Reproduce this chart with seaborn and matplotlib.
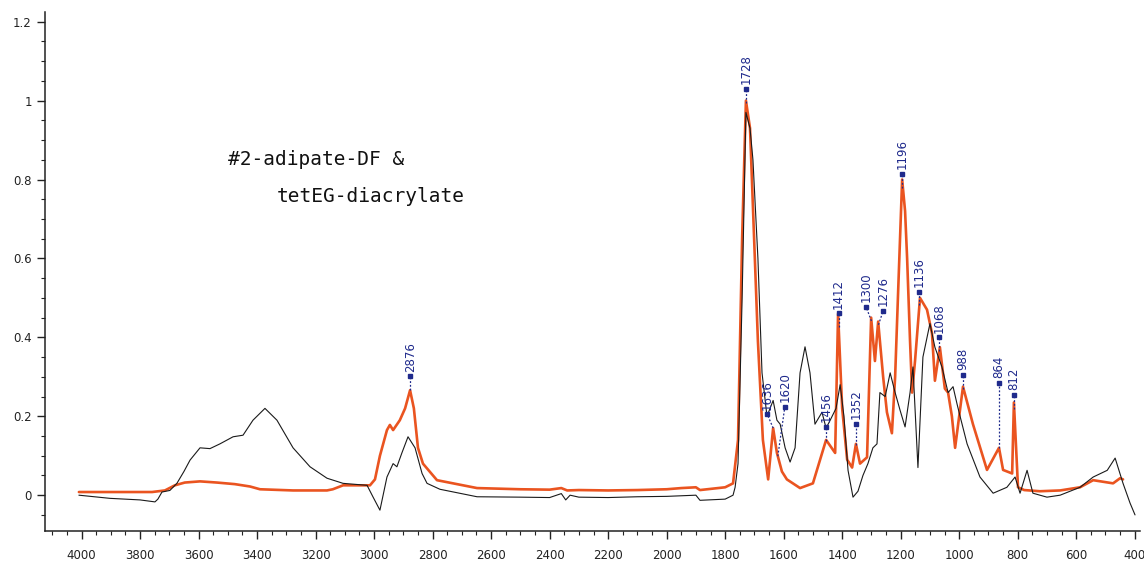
import numpy as np
import pandas as pd
import matplotlib
matplotlib.use("Agg")
import matplotlib.pyplot as plt
from matplotlib.ticker import MultipleLocator, FuncFormatter
import seaborn as sns

# ---------------- data ----------------
red_wn = [4009, 3903, 3759, 3715, 3681, 3647, 3595, 3537, 3476, 3424, 3390, 3277,
          3161, 3141, 3106, 3014, 2997, 2980, 2956, 2946, 2935, 2912, 2894, 2877,
          2864, 2850, 2833, 2785, 2648, 2500, 2400, 2360, 2340, 2300, 2200, 2100,
          2000, 1950, 1900, 1886, 1800, 1773, 1756, 1742, 1729, 1715, 1705, 1688,
          1671, 1653, 1636, 1623, 1606, 1589, 1544, 1500, 1455, 1424, 1414, 1400,
          1383, 1366, 1353, 1339, 1315, 1301, 1288, 1277, 1260, 1247, 1230, 1219,
          1209, 1195, 1185, 1178, 1168, 1161, 1151, 1134, 1110, 1093, 1083, 1066,
          1049, 1038, 1025, 1014, 987, 953, 905, 864, 850, 819, 813, 799, 778, 724,
          655, 587, 542, 474, 450, 440]
red_abs = [0.008, 0.008, 0.008, 0.012, 0.025, 0.032, 0.035, 0.032, 0.028, 0.022, 0.015, 0.012,
           0.012, 0.015, 0.025, 0.025, 0.040, 0.100, 0.165, 0.178, 0.165, 0.190, 0.220, 0.266,
           0.220, 0.120, 0.080, 0.038, 0.018, 0.015, 0.014, 0.018, 0.012, 0.013, 0.012, 0.013,
           0.015, 0.018, 0.020, 0.013, 0.020, 0.030, 0.140, 0.650, 1.000, 0.930, 0.730, 0.390,
           0.140, 0.040, 0.170, 0.107, 0.060, 0.040, 0.018, 0.030, 0.140, 0.107, 0.460, 0.220,
           0.090, 0.070, 0.130, 0.080, 0.096, 0.450, 0.340, 0.440, 0.300, 0.210, 0.157, 0.300,
           0.510, 0.800, 0.720, 0.600, 0.390, 0.260, 0.340, 0.500, 0.470, 0.410, 0.290, 0.375,
           0.270, 0.260, 0.200, 0.120, 0.275, 0.180, 0.064, 0.120, 0.064, 0.055, 0.235, 0.020, 0.013, 0.010,
           0.012, 0.020, 0.038, 0.030, 0.043, 0.040]

black_wn = [4009, 3903, 3800, 3749, 3739, 3725, 3698, 3674, 3650, 3629, 3595, 3561,
            3527, 3482, 3448, 3414, 3373, 3332, 3277, 3219, 3161, 3106, 3024, 3004,
            2980, 2956, 2935, 2922, 2905, 2884, 2860, 2836, 2819, 2775, 2648, 2500,
            2400, 2360, 2345, 2330, 2300, 2200, 2100, 2000, 1900, 1886, 1800, 1773,
            1766, 1756, 1742, 1729, 1715, 1705, 1688, 1674, 1657, 1636, 1623, 1612,
            1595, 1578, 1561, 1544, 1527, 1510, 1493, 1469, 1455, 1441, 1421, 1407,
            1394, 1380, 1363, 1346, 1329, 1312, 1295, 1281, 1271, 1253, 1236, 1219,
            1202, 1185, 1168, 1158, 1141, 1124, 1100, 1083, 1059, 1038, 1021, 1007,
            997, 973, 929, 884, 837, 809, 792, 768, 748, 700, 655, 587, 542, 494,
            467, 440, 416, 399]
black_abs = [0.000, -0.008, -0.012, -0.017, -0.010, 0.008, 0.012, 0.030, 0.060, 0.089, 0.120, 0.118,
             0.130, 0.148, 0.152, 0.190, 0.220, 0.190, 0.120, 0.072, 0.043, 0.030, 0.025, -0.004,
             -0.038, 0.046, 0.080, 0.072, 0.107, 0.148, 0.120, 0.055, 0.030, 0.015, -0.004, -0.005,
             -0.006, 0.004, -0.012, 0.000, -0.005, -0.006, -0.004, -0.003, 0.000, -0.013, -0.010, 0.000,
             0.020, 0.080, 0.500, 0.970, 0.930, 0.850, 0.600, 0.310, 0.200, 0.240, 0.190, 0.180,
             0.120, 0.084, 0.120, 0.310, 0.376, 0.310, 0.180, 0.210, 0.170, 0.190, 0.220, 0.280,
             0.200, 0.063, -0.005, 0.010, 0.050, 0.080, 0.120, 0.130, 0.260, 0.250, 0.310, 0.260,
             0.215, 0.173, 0.260, 0.325, 0.070, 0.350, 0.435, 0.375, 0.325, 0.260, 0.275, 0.230,
             0.200, 0.130, 0.046, 0.005, 0.020, 0.046, 0.005, 0.063, 0.005, -0.005, 0.000, 0.020, 0.046, 0.063,
             0.094, 0.030, -0.020, -0.050]

peak_labels = [2876, 1728, 1636, 1620, 1456, 1412, 1352, 1300, 1276, 1196, 1136,
               1068, 988, 864, 812]
x_ticks = list(range(4000, 399, -200))
y_ticks = [0, 0.2, 0.4, 0.6, 0.8, 1.0, 1.2]
title_lines = ["#2-adipate-DF &", "tetEG-diacrylate"]

# ---------------- figure ----------------
sns.set_style("ticks")
plt.rcParams["font.family"] = ["DejaVu Sans"]

fig = plt.figure(figsize=(11.44, 5.62), dpi=100)
ax = fig.add_axes([0.0393, 0.055, 0.9572, 0.924])

red_df = pd.DataFrame({"wn": red_wn, "abs": red_abs})
blk_df = pd.DataFrame({"wn": black_wn, "abs": black_abs})

sns.lineplot(data=red_df, x="wn", y="abs", sort=False, estimator=None,
             color="#ea5420", linewidth=1.9, ax=ax, zorder=2)
sns.lineplot(data=blk_df, x="wn", y="abs", sort=False, estimator=None,
             color="#1a1a1a", linewidth=0.8, ax=ax, zorder=3)

ax.set_xlim(4125, 382)
ax.set_ylim(-0.091, 1.225)
ax.set_xlabel("")
ax.set_ylabel("")

ax.xaxis.set_major_locator(MultipleLocator(200))
ax.xaxis.set_minor_locator(MultipleLocator(50))
ax.yaxis.set_major_locator(MultipleLocator(0.2))
ax.yaxis.set_minor_locator(MultipleLocator(0.05))
ax.set_xticks(x_ticks)
ax.set_yticks(y_ticks)
ax.yaxis.set_major_formatter(FuncFormatter(lambda v, p: f"{v:g}"))
ax.tick_params(axis="both", which="major", length=6, width=1, direction="out",
               labelsize=8.5, colors="#222222")
ax.tick_params(axis="both", which="minor", length=3, width=0.8, direction="out",
               colors="#222222")
ax.tick_params(axis="x", pad=7)
for s in ("top", "right"):
    ax.spines[s].set_visible(False)
for s in ("left", "bottom"):
    ax.spines[s].set_linewidth(1.1)
    ax.spines[s].set_color("#222222")

# ---------------- peak labels ----------------
rw = np.array(red_wn)[::-1]
ra = np.array(red_abs)[::-1]
extra_lift = {1620: 0.09, 864: 0.13, 1352: 0.02}
side_shift = {1636: 20, 1620: -24, 1300: 18, 1276: -16}   # label spread (cm-1)
navy = "#1f2a8c"
for lab in peak_labels:
    py = float(np.interp(lab + (1 if lab == 2876 else 0), rw, ra))
    top = py + 0.035 + extra_lift.get(lab, 0.0)
    tx = lab + side_shift.get(lab, 0)
    ax.plot([lab, tx], [py, top], linestyle=(0, (1.5, 1.5)), color=navy,
            linewidth=0.9, zorder=4)
    ax.plot([tx], [top], marker="s", markersize=2.6, color=navy, zorder=4)
    ax.text(tx, top + 0.012, str(lab), rotation=90, ha="center", va="bottom",
            fontsize=8.5, color=navy, zorder=5)

# ---------------- annotation text ----------------
ax.text(3500, 0.837, title_lines[0], fontsize=14, family=["DejaVu Sans Mono"],
        color="#111111", va="baseline", ha="left")
ax.text(3332, 0.744, title_lines[1], fontsize=14, family=["DejaVu Sans Mono"],
        color="#111111", va="baseline", ha="left")

fig.savefig("out.png", dpi=100, facecolor="white")
